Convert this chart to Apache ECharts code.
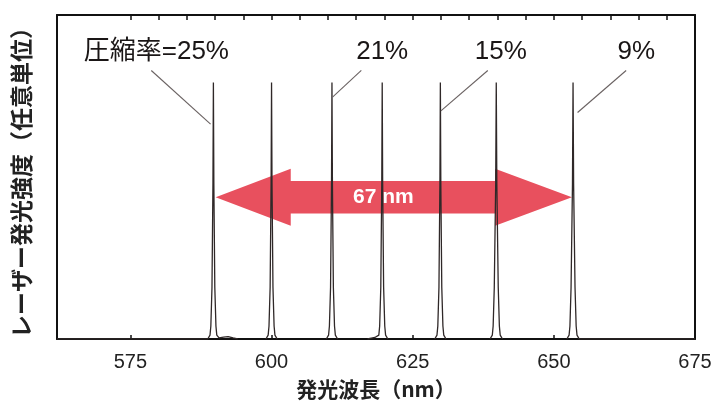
<!DOCTYPE html>
<html>
<head>
<meta charset="utf-8">
<script src="https://cdn.jsdelivr.net/npm/echarts@6/dist/echarts.min.js"></script>
<style>
  html, body { margin: 0; padding: 0; background: #ffffff; }
  #chart { width: 716px; height: 405px; }
</style>
</head>
<body>
<div id="chart"></div>
<script>
// Laser emission spectra for each compression ratio (wavelength nm, relative intensity)
const peak25 = [[562, 0], [588.7, 0], [589.1, 0.015], [589.25, 0.05], [589.45, 0.2], [589.62, 0.6], [589.7, 0.99], [589.78, 0.6], [589.95, 0.2], [590.15, 0.05], [590.3, 0.015], [590.7, 0.004], [591.5, 0.007], [592.3, 0.009], [593.2, 0.004], [594.0, 0]];
const peak21a = [[599.0, 0], [599.4, 0.015], [599.55, 0.05], [599.75, 0.2], [599.92, 0.6], [600.0, 0.99], [600.08, 0.6], [600.25, 0.2], [600.45, 0.05], [600.6, 0.015], [601.0, 0]];
const peak21b = [[609.7, 0], [610.1, 0.015], [610.25, 0.05], [610.45, 0.2], [610.62, 0.6], [610.7, 0.99], [610.78, 0.6], [610.95, 0.2], [611.15, 0.05], [611.3, 0.015], [611.7, 0]];
const peak15a = [[617.0, 0], [618.3, 0.006], [619.0, 0.015], [619.15, 0.05], [619.35, 0.2], [619.52, 0.6], [619.6, 0.99], [619.68, 0.6], [619.85, 0.2], [620.05, 0.05], [620.2, 0.015], [620.6, 0]];
const peak15b = [[628.9, 0], [629.3, 0.015], [629.45, 0.05], [629.65, 0.2], [629.82, 0.6], [629.9, 0.99], [629.98, 0.6], [630.15, 0.2], [630.35, 0.05], [630.5, 0.015], [630.9, 0]];
const peak9a = [[638.7, 0], [639.1, 0.015], [639.25, 0.05], [639.45, 0.2], [639.7, 0.6], [639.8, 0.99], [639.9, 0.6], [640.15, 0.2], [640.35, 0.05], [640.5, 0.015], [640.9, 0]];
const peak9b = [[652.3, 0], [652.7, 0.015], [652.85, 0.05], [653.05, 0.2], [653.3, 0.6], [653.4, 0.99], [653.5, 0.6], [653.75, 0.2], [653.95, 0.05], [654.1, 0.015], [654.5, 0], [675, 0]];

// Compression-ratio callouts: text, text anchor, leader line start and end
const ratioLabels = ['圧縮率=25%', '21%', '15%', '9%'];
const labelAnchors = [[579.6, 1.107], [619.6, 1.107], [640.6, 1.107], [664.6, 1.107]];
const leaderStarts = [[578.7, 1.036], [615.9, 1.036], [638.3, 1.036], [662.8, 1.036]];
const leaderEnds = [[589.2, 0.829], [610.8, 0.933], [630.0, 0.880], [654.2, 0.874]];

// Tuning-range arrow
const spanText = '67 nm';
const arrowTips = [590.1, 653.2];
const arrowHeadBases = [603.4, 639.6];
const arrowCenter = 0.547;
const arrowHeadHalf = 0.11;
const arrowShaftHalf = 0.063;
const spanTextAt = 619.8;

// Axis ticks
const xMin = 562, xMax = 675, yMax = 1.25;
const majorTicks = [575, 600, 625, 650, 675];
const topTicks = [575, 580, 585, 590, 595, 600, 605, 610, 615, 620, 625, 630, 635, 640, 645, 650, 655, 660, 665, 670];

const spectra = [peak25, peak21a, peak21b, peak15a, peak15b, peak9a, peak9b];
const FONT = "'Liberation Sans', 'Noto Sans CJK JP', sans-serif";
const CJK = "'Noto Sans CJK JP', sans-serif";

const chart = echarts.init(document.getElementById('chart'), null, { renderer: 'canvas' });

const spectrumSeries = spectra.map((d, i) => ({
  type: 'line',
  data: d,
  xAxisIndex: 0,
  yAxisIndex: 0,
  showSymbol: false,
  symbol: 'none',
  smooth: false,
  z: 3,
  silent: true,
  lineStyle: { color: '#2f2828', width: 1.3 },
  markLine: i === 0 ? {
    silent: true,
    symbol: 'none',
    label: { show: false },
    lineStyle: { color: '#6a6262', width: 1.1, type: 'solid' },
    data: leaderStarts.map((s, k) => [{ coord: s }, { coord: leaderEnds[k] }])
  } : undefined,
  markPoint: i === 0 ? {
    silent: true,
    symbol: 'circle',
    symbolSize: 0,
    data: ratioLabels.map((t, k) => ({
      coord: labelAnchors[k],
      value: t,
      label: {
        show: true, position: 'inside', formatter: t,
        fontFamily: FONT, fontSize: 26, color: '#1a1616'
      }
    }))
  } : undefined
}));

const arrowSeries = {
  type: 'custom',
  z: 1,
  silent: true,
  xAxisIndex: 0,
  yAxisIndex: 0,
  data: [[arrowTips[0], arrowCenter]],
  renderItem: function (params, api) {
    const c = (x, y) => api.coord([x, y]);
    const pts = [
      c(arrowTips[0], arrowCenter),
      c(arrowHeadBases[0], arrowCenter + arrowHeadHalf),
      c(arrowHeadBases[0], arrowCenter + arrowShaftHalf),
      c(arrowHeadBases[1], arrowCenter + arrowShaftHalf),
      c(arrowHeadBases[1], arrowCenter + arrowHeadHalf),
      c(arrowTips[1], arrowCenter),
      c(arrowHeadBases[1], arrowCenter - arrowHeadHalf),
      c(arrowHeadBases[1], arrowCenter - arrowShaftHalf),
      c(arrowHeadBases[0], arrowCenter - arrowShaftHalf),
      c(arrowHeadBases[0], arrowCenter - arrowHeadHalf)
    ];
    const mid = c(spanTextAt, arrowCenter);
    return {
      type: 'group',
      children: [
        { type: 'polygon', shape: { points: pts }, style: { fill: '#e8505e' } },
        {
          type: 'text',
          style: {
            text: spanText, x: mid[0], y: mid[1],
            align: 'center', verticalAlign: 'middle',
            fill: '#ffffff', font: 'bold 21px ' + FONT
          }
        }
      ]
    };
  }
};

chart.setOption({
  backgroundColor: '#ffffff',
  animation: false,
  grid: { left: 57, right: 21, top: 15, bottom: 58, containLabel: false },
  xAxis: [
    {
      type: 'value', position: 'bottom', min: xMin, max: xMax,
      axisLine: { show: true, onZero: false, lineStyle: { color: '#111', width: 2 } },
      axisTick: { show: true, inside: true, length: 4, customValues: majorTicks, lineStyle: { color: '#111', width: 1.5 } },
      axisLabel: { show: true, customValues: majorTicks, margin: 13, fontFamily: FONT, fontSize: 20, color: '#222' },
      splitLine: { show: false },
      name: '発光波長（nm）', nameLocation: 'middle', nameGap: 40,
      nameTextStyle: { fontFamily: CJK, fontSize: 21, fontWeight: 'bold', color: '#222' }
    },
    {
      type: 'value', position: 'top', min: xMin, max: xMax,
      axisLine: { show: true, onZero: false, lineStyle: { color: '#111', width: 2 } },
      axisTick: { show: true, inside: true, length: 5, customValues: topTicks, lineStyle: { color: '#111', width: 1.5 } },
      axisLabel: { show: false },
      splitLine: { show: false }
    }
  ],
  yAxis: [
    {
      type: 'value', position: 'left', min: 0, max: yMax,
      axisLine: { show: true, onZero: false, lineStyle: { color: '#111', width: 2 } },
      axisTick: { show: false }, axisLabel: { show: false }, splitLine: { show: false },
      name: 'レーザー発光強度（任意単位）', nameLocation: 'middle', nameGap: 24, nameRotate: 90,
      nameTextStyle: { fontFamily: CJK, fontSize: 23, fontWeight: 'bold', color: '#222' }
    },
    {
      type: 'value', position: 'right', min: 0, max: yMax,
      axisLine: { show: true, onZero: false, lineStyle: { color: '#111', width: 2 } },
      axisTick: { show: false }, axisLabel: { show: false }, splitLine: { show: false }
    }
  ],
  series: [arrowSeries].concat(spectrumSeries)
});
</script>
</body>
</html>
